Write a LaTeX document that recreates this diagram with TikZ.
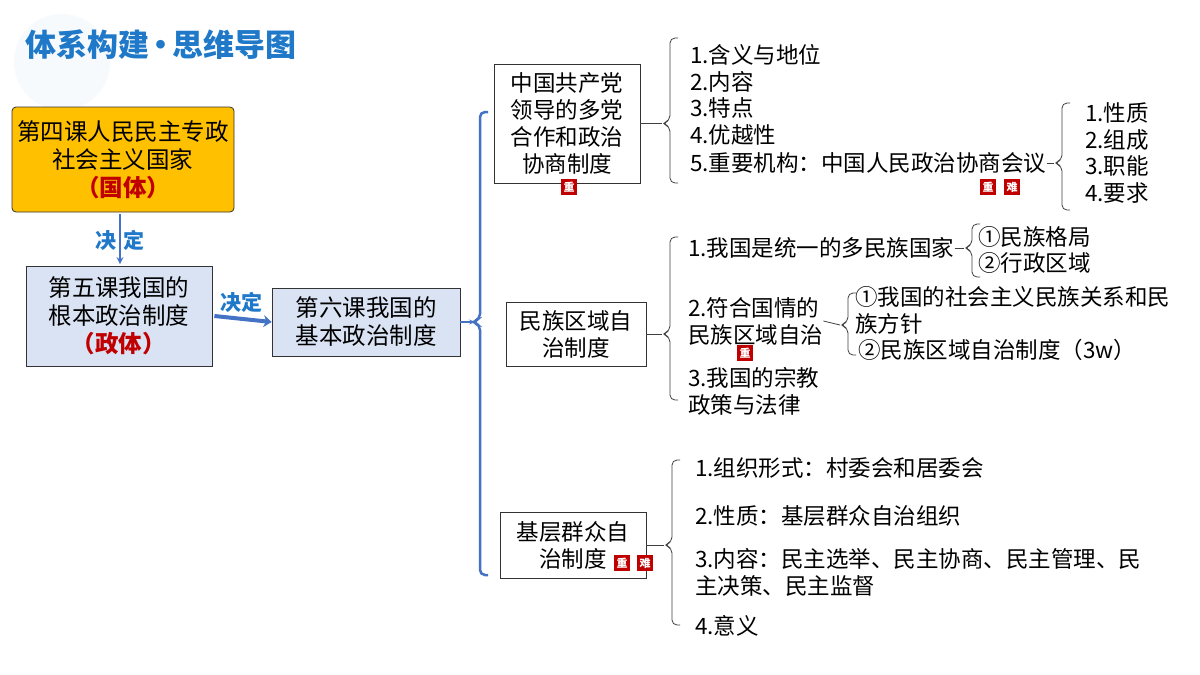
\documentclass[tikz,border=0pt]{standalone}
\usepackage{fontspec}
\setmainfont{Noto Sans CJK SC}
\usetikzlibrary{positioning,calc,arrows.meta}
\definecolor{titleblue}{HTML}{1F78C8}
\definecolor{boxblue}{HTML}{DAE3F3}
\definecolor{gold}{HTML}{FFC000}
\definecolor{tagred}{HTML}{C00000}
\definecolor{linkblue}{HTML}{4472C4}
\tikzset{
  box/.style={draw=black!80, thick, fill=boxblue, align=center, font=\fontsize{23.5}{28}\selectfont, inner sep=0pt},
  plain/.style={draw=black!80, thick, fill=white, align=center, font=\fontsize{22.5}{27}\selectfont, inner sep=0pt},
  item/.style={anchor=west, font=\fontsize{22.5}{27}\selectfont, inner sep=0pt, align=left},
  tag/.style={fill=tagred, text=white, font=\fontsize{11}{11}\selectfont\bfseries, minimum size=16pt, inner sep=0pt},
  brace/.style={draw=black!75, thick, rounded corners=5pt},
}
% bracket: x, top, bottom, tip
\newcommand{\mybrace}[5][brace]{\draw[#1] ($(#2,#3)+(8,0)$) -- (#2,#3) -- (#2,#5-3) -- ($(#2,#5)+(-8,0)$) -- (#2,#5+3) -- (#2,#4) -- ($(#2,#4)+(8,0)$);}
\begin{document}
\begin{tikzpicture}[x=1pt, y=-1pt]
\useasboundingbox (0,0) rectangle (1200,675);
\fill[white] (0,0) rectangle (1200,675);
% title
\fill[titleblue!4] (62,62) circle (48);
\node[anchor=west, text=titleblue, font=\fontsize{31}{32}\selectfont\bfseries] (title) at (22,45) {体系构建\hspace{-4pt}•\hspace{-4pt}思维导图};
% left chain
\node[box, fill=gold, rounded corners=4pt, minimum width=222pt, minimum height=105pt] (guoti) at (123,159.5)
  {第四课人民民主专政\\社会主义国家\\{\color{tagred}\bfseries（国体）}};
\node[box, minimum width=186pt, minimum height=100pt] (zhengti) at (119,316)
  {第五课我国的\\根本政治制度\\{\color{tagred}\bfseries（政体）}};
\node[box, minimum width=188pt, minimum height=68pt] (jiben) at (366,322) {第六课我国的\\基本政治制度};
\coordinate (d1) at (120,214);
\coordinate (d2) at (120,264);
\draw[linkblue, line width=2pt, -stealth] (d1) -- (d2);
\node[text=titleblue, font=\fontsize{21}{21}\selectfont\bfseries] (jd1) at (120,240) {决\hspace{8pt}定};
\draw[linkblue, line width=4pt, -{Stealth[length=8pt,width=12pt]}] (zhengti.east) ++(2,0) -- (jiben.west);
\node[text=titleblue, font=\fontsize{21}{21}\selectfont\bfseries] (jd2) at (241,302) {决定};
% main bracket
\draw[linkblue, line width=2.5pt] (jiben.east) -- (472,322);
\mybrace[draw=linkblue, line width=2.5pt, rounded corners=5pt]{480}{112}{575}{322}
% branch A
\node[plain, minimum width=146pt, minimum height=119pt] (dangpai) at (567,123.5) {中国共产党\\领导的多党\\合作和政治\\协商制度};
\node[tag] (tA) at (569,187) {重};
\draw[brace] (dangpai.east) -- (662,123.5);
\mybrace{670}{38}{183}{123.5}
\node[item] (a1) at (690,55) {1.含义与地位};
\node[item] (a2) at (690,82) {2.内容};
\node[item] (a3) at (690,108) {3.特点};
\node[item] (a4) at (690,135) {4.优越性};
\node[item] (a5) at (690,163) {5.重要机构：中国人民政治协商会议};
\node[tag] (tA1) at (988,187) {重};
\node[tag] (tA2) at (1012,187) {难};
\draw[brace] (a5.east) -- (1054,163);
\mybrace{1062}{103}{210}{163}
\node[item] (a51) at (1085,113) {1.性质};
\node[item] (a52) at (1085,140) {2.组成};
\node[item] (a53) at (1085,166) {3.职能};
\node[item] (a54) at (1085,193) {4.要求};
% branch B
\node[plain, minimum width=140pt, minimum height=64pt] (minzu) at (576,334) {民族区域自\\治制度};
\draw[brace] (minzu.east) -- (662,334);
\mybrace{670}{237}{400}{334}
\node[item] (b1) at (688,248) {1.我国是统一的多民族国家};
\node[item] (b2) at (688,321) {2.符合国情的\\民族区域自治};
\node[tag] (tB) at (745,353) {重};
\node[item] (b3) at (688,391) {3.我国的宗教\\政策与法律};
\draw[brace] (b1.east) -- (964,248);
\mybrace{972}{224}{277}{248}
\node[item] (b11) at (978,237) {①民族格局};
\node[item] (b12) at (978,263) {②行政区域};
\draw[brace] (b2.east) -- (840,325);
\mybrace{848}{293}{355}{325}
\node[item] (b21) at (855,310.5) {①我国的社会主义民族关系和民\\族方针};
\node[item] (b22) at (858,350) {②民族区域自治制度（3w）};
% branch C
\node[plain, minimum width=146pt, minimum height=66pt] (jiceng) at (573,545) {基层群众自\\治制度\hspace{30pt}};
\node[tag] (tC1) at (622,563) {重};
\node[tag] (tC2) at (645,563) {难};
\draw[brace] (jiceng.east) -- (664,545);
\mybrace{672}{460}{625}{545}
\node[item] (c1) at (695,468) {1.组织形式：村委会和居委会};
\node[item] (c2) at (695,516) {2.性质：基层群众自治组织};
\node[item] (c3) at (695,572) {3.内容：民主选举、民主协商、民主管理、民\\主决策、民主监督};
\node[item] (c4) at (695,626) {4.意义};
\end{tikzpicture}
\end{document}
